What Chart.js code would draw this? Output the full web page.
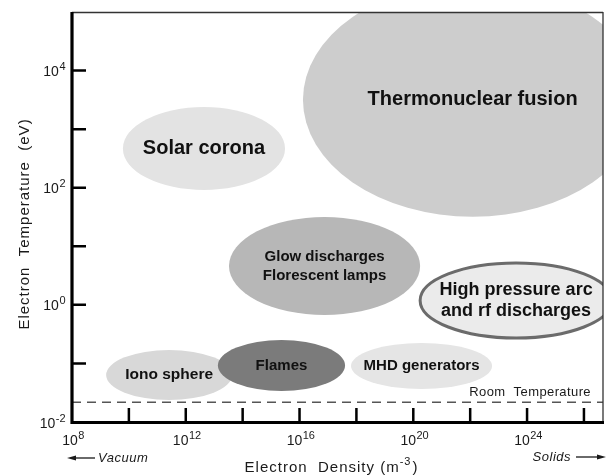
<!DOCTYPE html>
<html>
<head>
<meta charset="utf-8">
<script src="https://cdn.jsdelivr.net/npm/chart.js@4.4.0/dist/chart.umd.min.js"></script>
<style>
html, body { margin: 0; padding: 0; background: #fff; }
#wrap { width: 608px; height: 475px; }
</style>
</head>
<body>
<div id="wrap"><canvas id="plasma_chart" width="608" height="475"></canvas></div>
<script>
// Plasma regions, bounds given as log10 of density (m^-3) and temperature (eV)
const regionLabels = [
    ["Thermonuclear fusion"],
    ["Solar corona"],
    ["Glow discharges", "Florescent lamps"],
    ["High pressure arc", "and rf discharges"],
    ["MHD generators"],
    ["Iono sphere"],
    ["Flames"]
];
const densLogLo = [16.12, 9.79, 13.52, 20.24, 17.81, 9.20, 13.13];
const densLogHi = [28.05, 15.49, 20.24, 26.99, 22.77, 13.63, 17.60];
const tempLogLo = [1.505, 1.961, -0.173, -0.566, -1.437, -1.624, -1.471];
const tempLogHi = [5.50, 3.378, 1.500, 0.715, -0.651, -0.771, -0.600];

// room temperature line (eV)
const roomTempEv = 0.0217;

// axis range and ticks (exponents)
const densMin = 1e8;
const densMax = 10 ** 26.67;
const tempMin = 1e-2;
const tempMax = 1e5;
const xTickExp = [10, 12, 14, 16, 18, 20, 22, 24, 26];
const xLabelExp = [8, 12, 16, 20, 24];
const yTickExp = [-1, 0, 1, 2, 3, 4];
const yLabelExp = [-2, 0, 2, 4];

// looks
const regionFill = ["#cdcdcd", "#e3e3e3", "#b7b7b7", "#ebebeb", "#e5e5e5", "#d8d8d8", "#7b7b7b"];
const regionEdge = [null, null, null, "#6b6b6b", null, null, null];
const regionFont = [20, 20, 15, 18, 15, 15.5, 15];
const regionLineGap = [0, 0, 19, 21.5, 0, 0, 0];

const axisFont = '"Liberation Sans", Arial, sans-serif';
const labelFont = '"Liberation Sans", Arial, sans-serif';

//draws 10 with a raised exponent
function drawPow(ctx, exp, x, yMid, align){
    const sup = exp < 0 ? "-" + (-exp) : String(exp);
    ctx.font = "14px " + axisFont;
    const wb = ctx.measureText("10").width;
    ctx.font = "11px " + axisFont;
    const ws = ctx.measureText(sup).width;
    const x0 = (align == "right") ? x - wb - ws : x - (wb + ws) / 2;
    ctx.textAlign = "left";
    ctx.textBaseline = "alphabetic";
    ctx.font = "14px " + axisFont;
    ctx.fillText("10", x0, yMid + 5);
    ctx.font = "11px " + axisFont;
    ctx.fillText(sup, x0 + wb + 0.5, yMid - 1);
}

function arrow(ctx, xFrom, xTo, y){
    const dir = Math.sign(xTo - xFrom);
    ctx.beginPath();
    ctx.moveTo(xFrom, y);
    ctx.lineTo(xTo - dir * 6, y);
    ctx.lineWidth = 1.3;
    ctx.stroke();
    ctx.beginPath();
    ctx.moveTo(xTo, y);
    ctx.lineTo(xTo - dir * 9, y - 2.5);
    ctx.lineTo(xTo - dir * 9, y + 2.5);
    ctx.closePath();
    ctx.fill();
}

//Ellipses drawn under the dataset (dashed line)
const plasmaRegions = {
    id: "plasmaRegions",
    beforeDatasetsDraw(chart){
        const {ctx, chartArea, scales} = chart;
        const xs = scales.x, ys = scales.y;
        ctx.save();
        ctx.beginPath();
        ctx.rect(chartArea.left, chartArea.top, chartArea.right - chartArea.left, chartArea.bottom - chartArea.top);
        ctx.clip();
        for(let i = 0; i < regionLabels.length; i++){
            const x1 = xs.getPixelForValue(10 ** densLogLo[i]);
            const x2 = xs.getPixelForValue(10 ** densLogHi[i]);
            const y1 = ys.getPixelForValue(10 ** tempLogHi[i]);
            const y2 = ys.getPixelForValue(10 ** tempLogLo[i]);
            const cx = (x1 + x2) / 2, cy = (y1 + y2) / 2;
            ctx.beginPath();
            ctx.ellipse(cx, cy, Math.abs(x2 - x1) / 2, Math.abs(y2 - y1) / 2, 0, 0, Math.PI * 2);
            ctx.fillStyle = regionFill[i];
            ctx.fill();
            if(regionEdge[i]){
                ctx.lineWidth = 3;
                ctx.strokeStyle = regionEdge[i];
                ctx.stroke();
            }
            const lines = regionLabels[i];
            ctx.fillStyle = "#111";
            ctx.font = "bold " + regionFont[i] + "px " + labelFont;
            ctx.textAlign = "center";
            ctx.textBaseline = "middle";
            for(let j = 0; j < lines.length; j++){
                const off = (j - (lines.length - 1) / 2) * regionLineGap[i];
                ctx.fillText(lines[j], cx, cy + off);
            }
        }
        ctx.restore();
    }
};

//Frame, inward ticks, labels and titles
const plasmaAxes = {
    id: "plasmaAxes",
    afterDraw(chart){
        const {ctx, chartArea} = chart;
        const xs = chart.scales.x, ys = chart.scales.y;
        const L = chartArea.left, R = chartArea.right, T = chartArea.top, B = chartArea.bottom;
        ctx.save();
        ctx.strokeStyle = "#000";
        ctx.fillStyle = "#000";

        //top and right thin
        ctx.lineWidth = 1.3;
        ctx.strokeStyle = "#333";
        ctx.beginPath();
        ctx.moveTo(L, T + 0.5); ctx.lineTo(R, T + 0.5);
        ctx.moveTo(R, T); ctx.lineTo(R, B);
        ctx.stroke();

        //ticks
        ctx.strokeStyle = "#000";
        ctx.lineWidth = 2.5;
        ctx.beginPath();
        for(const e of xTickExp){
            const px = xs.getPixelForValue(10 ** e);
            ctx.moveTo(px, B); ctx.lineTo(px, B - 14);
        }
        for(const e of yTickExp){
            const py = ys.getPixelForValue(10 ** e);
            ctx.moveTo(L, py); ctx.lineTo(L + 14, py);
        }
        ctx.stroke();

        //left and bottom thick
        ctx.lineWidth = 3.2;
        ctx.beginPath();
        ctx.moveTo(L, T); ctx.lineTo(L, B + 0.5);
        ctx.lineTo(R + 1, B + 0.5);
        ctx.stroke();

        //tick labels
        ctx.fillStyle = "#1a1a1a";
        for(const e of xLabelExp){
            drawPow(ctx, e, xs.getPixelForValue(10 ** e) + 1, B + 18, "center");
        }
        for(const e of yLabelExp){
            drawPow(ctx, e, L - 7, ys.getPixelForValue(10 ** e) + 0.5, "right");
        }

        //axis titles
        ctx.letterSpacing = "1px";
        ctx.font = "15px " + axisFont;
        ctx.textBaseline = "middle";
        ctx.textAlign = "center";
        ctx.save();
        ctx.translate(25, 224);
        ctx.rotate(-Math.PI / 2);
        ctx.fillText("Electron  Temperature  (eV)", 0, 0);
        ctx.restore();

        const t1 = "Electron  Density (m", t2 = "-3", t3 = ")";
        ctx.font = "15px " + axisFont;
        const w1 = ctx.measureText(t1).width, w3 = ctx.measureText(t3).width;
        ctx.font = "11px " + axisFont;
        const w2 = ctx.measureText(t2).width;
        let tx = 331 - (w1 + w2 + w3) / 2;
        ctx.textAlign = "left";
        ctx.textBaseline = "alphabetic";
        ctx.font = "15px " + axisFont;
        ctx.fillText(t1, tx, 472);
        ctx.font = "11px " + axisFont;
        ctx.fillText(t2, tx + w1, 465);
        ctx.font = "15px " + axisFont;
        ctx.fillText(t3, tx + w1 + w2 + 1, 472);

        //vacuum / solids
        ctx.letterSpacing = "0.5px";
        ctx.font = "italic 13px " + axisFont;
        ctx.textBaseline = "middle";
        ctx.textAlign = "left";
        ctx.fillText("Vacuum", 98, 458);
        ctx.textAlign = "right";
        ctx.fillText("Solids", 571, 457);
        ctx.strokeStyle = "#1a1a1a";
        arrow(ctx, 95, 67, 458);
        arrow(ctx, 576, 606, 457);

        //room temperature
        ctx.font = "13px " + axisFont;
        ctx.letterSpacing = "0.4px";
        ctx.textAlign = "right";
        ctx.fillText("Room  Temperature", 591, ys.getPixelForValue(roomTempEv) - 10);
        ctx.restore();
    }
};

var ctx_plasma = document.getElementById("plasma_chart").getContext("2d");
const plasmaChart = new Chart(ctx_plasma, {
    type: "scatter",
    data: {
        datasets: [{
            label: "Room Temperature",
            data: [{x: densMin, y: roomTempEv}, {x: densMax, y: roomTempEv}],
            showLine: true,
            borderColor: "#555",
            borderWidth: 1.5,
            borderDash: [9, 6],
            pointRadius: 0,
            fill: false
        }]
    },
    options: {
        responsive: false,
        animation: false,
        devicePixelRatio: 1,
        layout: { padding: { top: 12, right: 5, left: 0, bottom: 0 } },
        plugins: { legend: { display: false }, tooltip: { enabled: false } },
        scales: {
            x: {
                type: "logarithmic",
                min: densMin,
                max: densMax,
                grid: { display: false },
                border: { display: false },
                ticks: { display: false },
                afterFit(s){ s.height = 53; }
            },
            y: {
                type: "logarithmic",
                min: tempMin,
                max: tempMax,
                grid: { display: false },
                border: { display: false },
                ticks: { display: false },
                afterFit(s){ s.width = 72; }
            }
        }
    },
    plugins: [plasmaRegions, plasmaAxes]
});
</script>
</body>
</html>
